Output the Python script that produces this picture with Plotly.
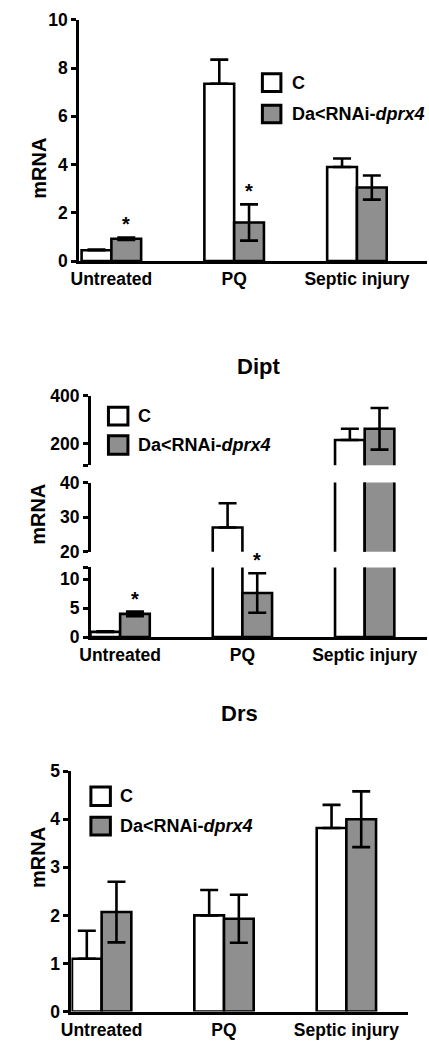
import plotly.graph_objects as go

# ---------------- data ----------------
categories = ["Untreated", "PQ", "Septic injury"]
series_names = ["C", "Da<RNAi-<i>dprx4</i>"]

# Panel 1 (untitled)
p1_c = [0.45, 7.35, 3.9]
p1_c_err = [0.03, 1.0, 0.35]
p1_k = [0.93, 1.6, 3.05]
p1_k_err = [0.05, 0.75, 0.5]
p1_sig = [True, True, False]

# Dipt (broken axis)
dipt_c = [0.9, 27.0, 215.0]
dipt_c_err = [0.1, 7.0, 47.0]
dipt_k = [4.0, 7.6, 262.0]
dipt_k_err = [0.4, 3.4, 87.0]
dipt_sig = [True, True, False]

# Drs
drs_c = [1.1, 2.0, 3.82]
drs_c_err = [0.58, 0.53, 0.48]
drs_k = [2.07, 1.93, 4.0]
drs_k_err = [0.63, 0.5, 0.58]
drs_sig = [False, False, False]

# ---------------- style ----------------
W, H = 429, 1050
FONT = "Liberation Sans, Arial, sans-serif"
GRAY = "#8f8f8f"
LW = 2.6
BARGAP = 0.515


def px(x):
    return x / W


def py(y):
    return 1 - y / H


xs = list(range(len(categories)))
fig = go.Figure()


def add_pair(c, ce, k, ke, xa, ya):
    fig.add_trace(go.Bar(
        x=xs, y=c, name=series_names[0], xaxis=xa, yaxis=ya,
        marker=dict(color="white", line=dict(color="black", width=LW)),
        error_y=dict(type="data", array=ce, arrayminus=[0] * len(ce), symmetric=False,
                     color="black", thickness=LW, width=9),
        showlegend=False))
    fig.add_trace(go.Bar(
        x=xs, y=k, name=series_names[1], xaxis=xa, yaxis=ya,
        marker=dict(color=GRAY, line=dict(color="black", width=LW)),
        error_y=dict(type="data", array=ke, symmetric=True,
                     color="black", thickness=LW, width=9),
        showlegend=False))


add_pair(p1_c, p1_c_err, p1_k, p1_k_err, "x", "y")
for ya in ["y2", "y3", "y4"]:
    add_pair(dipt_c, dipt_c_err, dipt_k, dipt_k_err, "x2", ya)
add_pair(drs_c, drs_c_err, drs_k, drs_k_err, "x3", "y5")

tickfont = dict(family=FONT, size=17.5, color="black", weight="bold")


def xax(dom, rng, anchor):
    return dict(domain=[px(dom[0]), px(dom[1])], range=rng, anchor=anchor,
                tickmode="array", tickvals=xs, ticktext=categories,
                showline=True, linewidth=3, linecolor="black", ticks="",
                showgrid=False, zeroline=False, tickfont=tickfont, fixedrange=True)


def yax(dom, rng, anchor, tickvals, ticktext=None):
    d = dict(domain=[py(dom[0]), py(dom[1])], range=rng, anchor=anchor,
             tickmode="array", tickvals=tickvals,
             showline=True, linewidth=3, linecolor="black", ticks="outside",
             ticklen=5, tickwidth=2.5, tickcolor="black",
             showgrid=False, zeroline=False, tickfont=tickfont, fixedrange=True)
    if ticktext is not None:
        d["ticktext"] = ticktext
    return d


fig.update_layout(
    width=W, height=H, margin=dict(l=0, r=0, t=0, b=0),
    paper_bgcolor="white", plot_bgcolor="white",
    barmode="group", bargap=BARGAP, bargroupgap=0,
    showlegend=False,
    xaxis=xax((70, 427), [-0.262, 2.571], "y"),
    yaxis=yax((256, 10), [0, 10], "x", [0, 2, 4, 6, 8, 10]),
    xaxis2=xax((82, 427), [-0.239, 2.51], "y2"),
    yaxis2=yax((639.3, 568.3), [0, 12], "x2", [0, 5, 10, 12], ["0", "5", "10", ""]),
    yaxis3=yax((552.3, 481.7), [20, 40], "x2", [20, 30, 40]),
    yaxis4=yax((464, 393.3), [110, 400], "x2", [110, 200, 400], ["", "200", "400"]),
    xaxis3=xax((62, 407), [-0.247, 2.50], "y5"),
    yaxis5=yax((1021, 776), [0, 5], "x3", [0, 1, 2, 3, 4, 5]),
)

annots = []
shapes = []
bold = dict(family=FONT, color="black", weight="bold")

# significance asterisks
gray_off = (1 - BARGAP) / 4
for vals, errs, sig, xr, yr in [
    (p1_k, p1_k_err, p1_sig, "x", "y"),
    (dipt_k, dipt_k_err, dipt_sig, "x2", "y2"),
    (drs_k, drs_k_err, drs_sig, "x3", "y5"),
]:
    for i, s in enumerate(sig):
        if s:
            annots.append(dict(x=xs[i] + gray_off, y=vals[i] + errs[i], xref=xr, yref=yr,
                               text="*", showarrow=False, yanchor="middle", yshift=13,
                               font=dict(size=20, **bold)))

# panel titles
annots.append(dict(x=px(254), y=py(349), xref="paper", yref="paper", text="Dipt",
                   showarrow=False, font=dict(size=22, **bold)))
annots.append(dict(x=px(235), y=py(732), xref="paper", yref="paper", text="Drs",
                   showarrow=False, font=dict(size=22, **bold)))

# y titles
for yc in [128, 514, 897]:
    annots.append(dict(x=px(15), y=py(yc), xref="paper", yref="paper", text="mRNA",
                       textangle=-90, showarrow=False, font=dict(size=20, **bold)))

# legends (drawn)
for (bx0, bx1, cy0, cy1, gy0, gy1, tx) in [
    (258, 277, 65, 83, 97, 115, 286),
    (100, 120, 405, 423, 434, 453, 128),
    (82, 102, 792, 811, 823, 841, 110),
]:
    shapes.append(dict(type="rect", xref="paper", yref="paper", x0=px(bx0), x1=px(bx1),
                       y0=py(cy1), y1=py(cy0), fillcolor="white",
                       line=dict(color="black", width=3)))
    shapes.append(dict(type="rect", xref="paper", yref="paper", x0=px(bx0), x1=px(bx1),
                       y0=py(gy1), y1=py(gy0), fillcolor=GRAY,
                       line=dict(color="black", width=3)))
    annots.append(dict(x=px(tx), y=py((cy0 + cy1) / 2), xref="paper", yref="paper",
                       text=series_names[0], xanchor="left", yanchor="middle",
                       showarrow=False, font=dict(size=18, **bold)))
    annots.append(dict(x=px(tx), y=py((gy0 + gy1) / 2), xref="paper", yref="paper",
                       text=series_names[1], xanchor="left", yanchor="middle",
                       showarrow=False, font=dict(size=18, **bold)))

fig.update_layout(annotations=annots, shapes=shapes)
fig.write_html("out.html", config={"displayModeBar": False},
               post_script="document.body.style.margin='0px';document.body.style.overflow='hidden';")
